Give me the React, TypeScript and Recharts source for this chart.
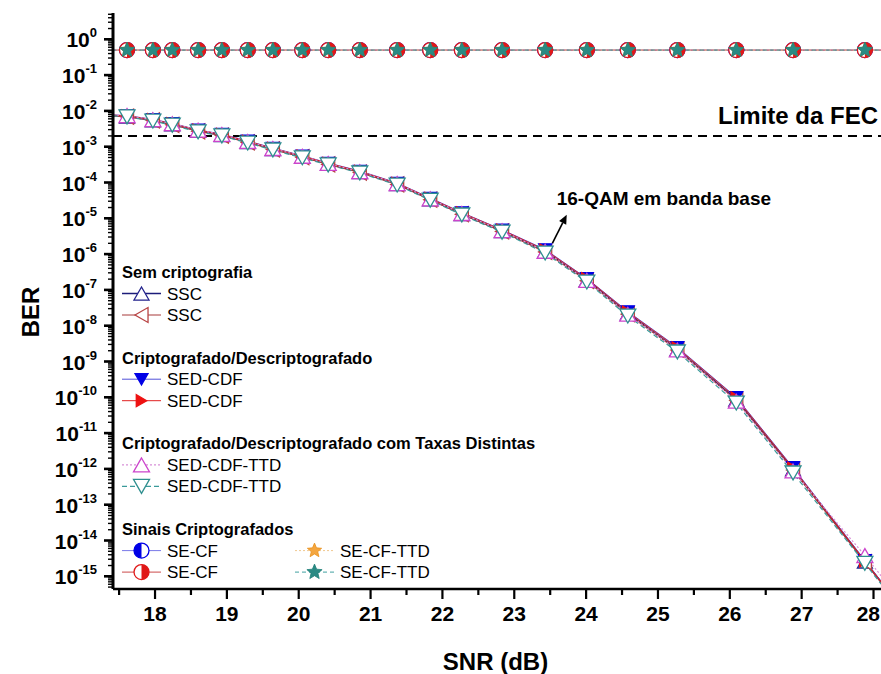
import React from "react";
import { ComposedChart, Line, XAxis, YAxis, ReferenceLine } from "recharts";

// SNR (dB) of every measured point; first and last run past the frame so the lines reach the edges
const SNR = [17.3, 17.61, 17.97, 18.24, 18.6, 18.93, 19.29, 19.64, 20.05, 20.41, 20.85, 21.37, 21.83, 22.27, 22.83, 23.43, 24.01, 24.58, 25.27, 26.09, 26.88, 27.88, 28.2];

// Sem criptografia
const SSC_A = [7.7e-3, 7.0e-3, 5.5e-3, 4.2e-3, 2.8e-3, 2.1e-3, 1.35e-3, 8.6e-4, 5.2e-4, 3.3e-4, 1.95e-4, 9.0e-5, 3.4e-5, 1.32e-5, 4.4e-6, 1.2e-6, 1.9e-7, 2.2e-8, 2.2e-9, 8.6e-11, 9.8e-13, 2.6e-15, 4.0e-16];
const SSC_B = [7.5e-3, 6.9e-3, 5.4e-3, 4.1e-3, 2.7e-3, 2.05e-3, 1.32e-3, 8.4e-4, 5.1e-4, 3.2e-4, 1.9e-4, 8.8e-5, 3.3e-5, 1.3e-5, 4.3e-6, 1.15e-6, 1.8e-7, 2.1e-8, 2.1e-9, 8.2e-11, 9.3e-13, 2.5e-15, 3.8e-16];
// Criptografado/Descriptografado
const SED_CDF_A = [7.9e-3, 7.4e-3, 5.8e-3, 4.5e-3, 2.95e-3, 2.25e-3, 1.45e-3, 9.2e-4, 5.6e-4, 3.5e-4, 2.1e-4, 9.7e-5, 3.7e-5, 1.45e-5, 4.8e-6, 1.35e-6, 2.1e-7, 2.5e-8, 2.5e-9, 1.0e-10, 1.1e-12, 2.8e-15, 4.2e-16];
const SED_CDF_B = [7.8e-3, 7.3e-3, 5.7e-3, 4.4e-3, 2.9e-3, 2.2e-3, 1.42e-3, 9.0e-4, 5.5e-4, 3.45e-4, 2.05e-4, 9.5e-5, 3.6e-5, 1.42e-5, 4.7e-6, 1.3e-6, 2.05e-7, 2.4e-8, 2.4e-9, 9.6e-11, 1.05e-12, 2.7e-15, 4.1e-16];
// Criptografado/Descriptografado com Taxas Distintas
const SED_CDF_TTD_A = [7.8e-3, 7.4e-3, 5.7e-3, 4.4e-3, 2.9e-3, 2.2e-3, 1.4e-3, 8.9e-4, 5.4e-4, 3.4e-4, 2.0e-4, 9.3e-5, 3.5e-5, 1.36e-5, 4.5e-6, 1.2e-6, 1.85e-7, 2.1e-8, 2.1e-9, 7.8e-11, 8.8e-13, 3.8e-15, 6.0e-16];
const SED_CDF_TTD_B = [7.6e-3, 6.8e-3, 5.2e-3, 4.0e-3, 2.6e-3, 2.0e-3, 1.27e-3, 8.1e-4, 4.9e-4, 3.1e-4, 1.85e-4, 8.5e-5, 3.2e-5, 1.24e-5, 4.1e-6, 1.07e-6, 1.66e-7, 1.86e-8, 1.85e-9, 6.9e-11, 7.7e-13, 2.3e-15, 3.5e-16];
// Sinais Criptografados
const SE_CF_A = [0.5, 0.5, 0.5, 0.5, 0.5, 0.5, 0.5, 0.5, 0.5, 0.5, 0.5, 0.5, 0.5, 0.5, 0.5, 0.5, 0.5, 0.5, 0.5, 0.5, 0.5, 0.5, 0.5];
const SE_CF_B = [0.5, 0.5, 0.5, 0.5, 0.5, 0.5, 0.5, 0.5, 0.5, 0.5, 0.5, 0.5, 0.5, 0.5, 0.5, 0.5, 0.5, 0.5, 0.5, 0.5, 0.5, 0.5, 0.5];
const SE_CF_TTD_A = [0.5, 0.5, 0.5, 0.5, 0.5, 0.5, 0.5, 0.5, 0.5, 0.5, 0.5, 0.5, 0.5, 0.5, 0.5, 0.5, 0.5, 0.5, 0.5, 0.5, 0.5, 0.5, 0.5];
const SE_CF_TTD_B = [0.5, 0.5, 0.5, 0.5, 0.5, 0.5, 0.5, 0.5, 0.5, 0.5, 0.5, 0.5, 0.5, 0.5, 0.5, 0.5, 0.5, 0.5, 0.5, 0.5, 0.5, 0.5, 0.5];

const X_TICKS = [18, 19, 20, 21, 22, 23, 24, 25, 26, 27, 28];
const Y_EXPONENTS = [0, -1, -2, -3, -4, -5, -6, -7, -8, -9, -10, -11, -12, -13, -14, -15];
const FEC_LIMIT = 2e-3;
const FEC_LABEL = "Limite da FEC";
const QAM_LABEL = "16-QAM em banda base";
const QAM_ARROW = [
  { x: 23.53, y: 2.0e-6 },
  { x: 23.73, y: 1.25e-5 },
];

const X_DOMAIN = [17.415, 28.146];
const Y_DOMAIN = [4.42e-16, 5.43];
const FONT = "'Liberation Sans', Arial, sans-serif";
const VIEW_W = 881;

const rows = SNR.map((snr, i) => ({
  snr,
  sscA: SSC_A[i],
  sscB: SSC_B[i],
  sedA: SED_CDF_A[i],
  sedB: SED_CDF_B[i],
  ttdA: SED_CDF_TTD_A[i],
  ttdB: SED_CDF_TTD_B[i],
  seA: SE_CF_A[i],
  seB: SE_CF_B[i],
  setA: SE_CF_TTD_A[i],
  setB: SE_CF_TTD_B[i],
}));

const X_MINOR = X_TICKS.map((t) => t - 0.5).filter((t) => t >= X_DOMAIN[0]);
const X_ALL = [...X_MINOR, ...X_TICKS].sort((a, b) => a - b);

const Y_MINOR: number[] = [];
for (let e = -16; e <= 0; e++) {
  for (let k = 2; k <= 9; k++) {
    const v = k * Math.pow(10, e);
    if (v >= Y_DOMAIN[0] && v <= Y_DOMAIN[1]) Y_MINOR.push(v);
  }
}
const Y_ALL = [...Y_MINOR, ...Y_EXPONENTS.map((e) => Math.pow(10, e))].sort((a, b) => a - b);

const isDecade = (v: number) => Math.abs(Math.log10(v) - Math.round(Math.log10(v))) < 1e-6;
const isWhole = (v: number) => Math.abs(v - Math.round(v)) < 1e-6;

// series look, in drawing order
const SERIES = [
  { key: "sscA", name: "SSC", kind: "up", color: "#22228c", fill: "#fff", size: 15, line: "#1c1c7a", width: 1.5, dash: undefined },
  { key: "sscB", name: "SSC", kind: "left", color: "#b84444", fill: "#fff", size: 15, line: "#a83a3a", width: 1.2, dash: undefined },
  { key: "sedA", name: "SED-CDF", kind: "down", color: "#0000e6", fill: "#0000e6", size: 13, line: "#5050d8", width: 1, dash: undefined },
  { key: "sedB", name: "SED-CDF", kind: "right", color: "#ee1111", fill: "#ee1111", size: 12, line: "#e02020", width: 1, dash: undefined },
  { key: "ttdA", name: "SED-CDF-TTD", kind: "up", color: "#cc44cc", fill: "#fff", size: 16, line: "#d890d8", width: 1.2, dash: "2 2" },
  { key: "ttdB", name: "SED-CDF-TTD", kind: "down", color: "#2f8f8f", fill: "#fff", size: 16, line: "#3a9a9a", width: 1.2, dash: "5 3" },
  { key: "seA", name: "SE-CF", kind: "halfL", color: "#0000e6", fill: "#0000e6", size: 15, line: "#7a7ae8", width: 1, dash: undefined },
  { key: "seB", name: "SE-CF", kind: "halfR", color: "#e01818", fill: "#e01818", size: 15, line: "#cc4a4a", width: 1, dash: undefined },
  { key: "setA", name: "SE-CF-TTD", kind: "star", color: "#e8901c", fill: "#f4a640", size: 15, line: "#f0c890", width: 1, dash: "2 2" },
  { key: "setB", name: "SE-CF-TTD", kind: "star", color: "#1f7f78", fill: "#2a8a84", size: 16, line: "#40a0a0", width: 1, dash: "4 3" },
];

const GROUPS = [
  { title: "Sem criptografia", cols: [["sscA", "sscB"]] },
  { title: "Criptografado/Descriptografado", cols: [["sedA", "sedB"]] },
  { title: "Criptografado/Descriptografado com Taxas Distintas", cols: [["ttdA", "ttdB"]] },
  { title: "Sinais Criptografados", cols: [["seA", "seB"], ["setA", "setB"]] },
];

type MarkerProps = { kind: string; cx: number; cy: number; color: string; fill: string; size: number };

function Marker({ kind, cx, cy, color, fill, size }: MarkerProps) {
  const r = size / 2;
  const h = size * 0.87;
  const sw = 1.3;
  if (kind === "up")
    return <polygon points={`${cx},${cy - h / 2} ${cx - r},${cy + h / 2} ${cx + r},${cy + h / 2}`} fill={fill} stroke={color} strokeWidth={sw} />;
  if (kind === "down")
    return <polygon points={`${cx},${cy + h / 2} ${cx - r},${cy - h / 2} ${cx + r},${cy - h / 2}`} fill={fill} stroke={color} strokeWidth={sw} />;
  if (kind === "left")
    return <polygon points={`${cx - h / 2},${cy} ${cx + h / 2},${cy - r} ${cx + h / 2},${cy + r}`} fill={fill} stroke={color} strokeWidth={sw} />;
  if (kind === "right")
    return <polygon points={`${cx + h / 2},${cy} ${cx - h / 2},${cy - r} ${cx - h / 2},${cy + r}`} fill={fill} stroke={color} strokeWidth={sw} />;
  if (kind === "halfL" || kind === "halfR") {
    const sweep = kind === "halfL" ? 0 : 1;
    return (
      <g>
        <circle cx={cx} cy={cy} r={r} fill="#fff" stroke={color} strokeWidth={sw} />
        <path d={`M${cx},${cy - r} A${r},${r} 0 0 ${sweep} ${cx},${cy + r} Z`} fill={fill} />
      </g>
    );
  }
  const pts: string[] = [];
  for (let i = 0; i < 10; i++) {
    const rad = i % 2 === 0 ? r : r * 0.45;
    const a = -Math.PI / 2 + (i * Math.PI) / 5;
    pts.push(`${cx + rad * Math.cos(a)},${cy + rad * Math.sin(a)}`);
  }
  return <polygon points={pts.join(" ")} fill={fill} stroke={color} strokeWidth={0.8} />;
}

function dotFor(s: (typeof SERIES)[number]) {
  return (p: any) => {
    const k = `${s.key}-${p.index}`;
    const x = p.payload?.snr;
    if (x < X_DOMAIN[0] || x > X_DOMAIN[1] || p.cx == null || p.cy == null) return <g key={k} />;
    return (
      <g key={k}>
        <Marker kind={s.kind} cx={p.cx} cy={p.cy} color={s.color} fill={s.fill} size={s.size} />
      </g>
    );
  };
}

function BottomTick(props: any) {
  const { x, y, payload } = props;
  const major = isWhole(payload.value);
  // the last label sits at the picture's edge: keep it inside
  const nearEdge = x + 13 > VIEW_W;
  return (
    <g>
      <line x1={x} x2={x} y1={y} y2={y + (major ? 10 : 6)} stroke="#000" strokeWidth={2.2} />
      {major && (
        <text
          x={nearEdge ? VIEW_W - 1 : x}
          y={y + 32}
          textAnchor={nearEdge ? "end" : "middle"}
          fontFamily={FONT}
          fontWeight="bold"
          fontSize={21}
          fill="#000"
        >
          {payload.value}
        </text>
      )}
    </g>
  );
}

function TopTick(props: any) {
  const { x, y, payload } = props;
  const major = isWhole(payload.value);
  return <line x1={x} x2={x} y1={y} y2={y + (major ? 11 : 6)} stroke="#000" strokeWidth={2.2} />;
}

function LeftTick(props: any) {
  const { x, y, payload } = props;
  const major = isDecade(payload.value);
  if (!major) return <line x1={x - 5} x2={x} y1={y} y2={y} stroke="#000" strokeWidth={1.4} />;
  const exp = Math.round(Math.log10(payload.value));
  return (
    <g>
      <line x1={x - 9} x2={x} y1={y} y2={y} stroke="#000" strokeWidth={2.6} />
      <text x={x - 16} y={y + 8} textAnchor="end" fontFamily={FONT} fontWeight="bold" fontSize={21} fill="#000">
        10
        <tspan dy={-10} fontSize={13}>
          {exp}
        </tspan>
      </text>
    </g>
  );
}

function RightTick(props: any) {
  const { x, y, payload } = props;
  const major = isDecade(payload.value);
  return <line x1={x - (major ? 9 : 5)} x2={x} y1={y} y2={y} stroke="#000" strokeWidth={major ? 2.4 : 1.4} />;
}

function Legend() {
  return (
    <svg width={881} height={674} style={{ position: "absolute", left: 0, top: 0, pointerEvents: "none" }}>
      {GROUPS.map((g, gi) => {
        const ty = 272 + gi * 85.7;
        return (
          <g key={g.title}>
            <text x={122} y={ty + 6} fontFamily={FONT} fontWeight="bold" fontSize={16.5} fill="#000">
              {g.title}
            </text>
            {g.cols.map((col, ci) =>
              col.map((key, ri) => {
                const s = SERIES.find((d) => d.key === key)!;
                const y = ty + 21.5 * (ri + 1);
                const x0 = ci === 0 ? 122 : 295;
                return (
                  <g key={key}>
                    <line x1={x0} x2={x0 + 39} y1={y} y2={y} stroke={s.line} strokeWidth={s.width} strokeDasharray={s.dash} />
                    <Marker kind={s.kind} cx={x0 + 19.5} cy={y} color={s.color} fill={s.fill} size={s.size} />
                    <text x={x0 + 45} y={y + 6} fontFamily={FONT} fontSize={17} fill="#000">
                      {s.name}
                    </text>
                  </g>
                );
              })
            )}
          </g>
        );
      })}
    </svg>
  );
}

export default function App() {
  return (
    <div style={{ position: "absolute", left: 0, top: 0, width: VIEW_W, height: 674, overflow: "hidden", background: "#fff" }}>
      <ComposedChart width={885} height={674} data={rows} margin={{ top: 13, right: 1, bottom: 0, left: 0 }}>
        <XAxis
          xAxisId="b"
          dataKey="snr"
          type="number"
          domain={X_DOMAIN}
          allowDataOverflow
          ticks={X_ALL}
          interval={0}
          tick={<BottomTick />}
          tickLine={false}
          tickSize={0}
          tickMargin={0}
          height={85}
          axisLine={{ stroke: "#000", strokeWidth: 2.6 }}
          label={(p: any) => {
            const vb = p.viewBox || {};
            return (
              <text x={vb.x + vb.width / 2 - 3} y={vb.y + 81} textAnchor="middle" fontFamily={FONT} fontWeight="bold" fontSize={24} fill="#000">
                SNR (dB)
              </text>
            );
          }}
        />
        <XAxis
          xAxisId="t"
          orientation="top"
          dataKey="snr"
          type="number"
          domain={X_DOMAIN}
          allowDataOverflow
          ticks={X_ALL}
          interval={0}
          tick={<TopTick />}
          tickLine={false}
          tickSize={0}
          tickMargin={0}
          height={0}
          axisLine={{ stroke: "#000", strokeWidth: 3 }}
        />
        <YAxis
          yAxisId="l"
          type="number"
          scale="log"
          domain={Y_DOMAIN}
          allowDataOverflow
          ticks={Y_ALL}
          interval={0}
          tick={<LeftTick />}
          tickLine={false}
          tickSize={0}
          tickMargin={0}
          width={113}
          axisLine={{ stroke: "#000", strokeWidth: 3 }}
          label={(p: any) => {
            const vb = p.viewBox || {};
            const cx = vb.x + 30;
            const cy = vb.y + vb.height / 2 + 11;
            return (
              <text x={cx} y={cy} transform={`rotate(-90 ${cx} ${cy})`} textAnchor="middle" dominantBaseline="central" fontFamily={FONT} fontWeight="bold" fontSize={24} fill="#000">
                BER
              </text>
            );
          }}
        />
        <YAxis
          yAxisId="r"
          orientation="right"
          type="number"
          scale="log"
          domain={Y_DOMAIN}
          allowDataOverflow
          ticks={Y_ALL}
          interval={0}
          tick={<RightTick />}
          tickLine={false}
          tickSize={0}
          tickMargin={0}
          width={0}
          axisLine={{ stroke: "#000", strokeWidth: 3 }}
        />
        <ReferenceLine
          xAxisId="b"
          yAxisId="l"
          y={FEC_LIMIT}
          stroke="#000"
          strokeWidth={2}
          strokeDasharray="9 6"
          label={(p: any) => {
            const vb = p.viewBox || {};
            return (
              <text x={Math.min(vb.x + vb.width, VIEW_W) - 3} y={vb.y - 12} textAnchor="end" fontFamily={FONT} fontWeight="bold" fontSize={24} fill="#000">
                {FEC_LABEL}
              </text>
            );
          }}
        />
        <ReferenceLine
          xAxisId="b"
          yAxisId="l"
          segment={QAM_ARROW}
          shape={(p: any) => {
            const { x1, y1, x2, y2 } = p;
            const a = Math.atan2(y2 - y1, x2 - x1);
            const L = 9;
            const W = 4;
            const bx = x2 - L * Math.cos(a);
            const by = y2 - L * Math.sin(a);
            const nx = -Math.sin(a) * W;
            const ny = Math.cos(a) * W;
            return (
              <g>
                <line x1={x1} y1={y1} x2={bx} y2={by} stroke="#000" strokeWidth={1.6} />
                <polygon points={`${x2},${y2} ${bx + nx},${by + ny} ${bx - nx},${by - ny}`} fill="#000" />
                <text x={x2 - 10} y={y2 - 10} fontFamily={FONT} fontWeight="bold" fontSize={19} fill="#000">
                  {QAM_LABEL}
                </text>
              </g>
            );
          }}
        />
        {SERIES.map((s) => (
          <Line
            key={s.key}
            xAxisId="b"
            yAxisId="l"
            type="linear"
            dataKey={s.key}
            stroke={s.line}
            strokeWidth={s.width}
            strokeDasharray={s.dash}
            dot={dotFor(s)}
            activeDot={false}
            isAnimationActive={false}
          />
        ))}
      </ComposedChart>
      <Legend />
    </div>
  );
}
